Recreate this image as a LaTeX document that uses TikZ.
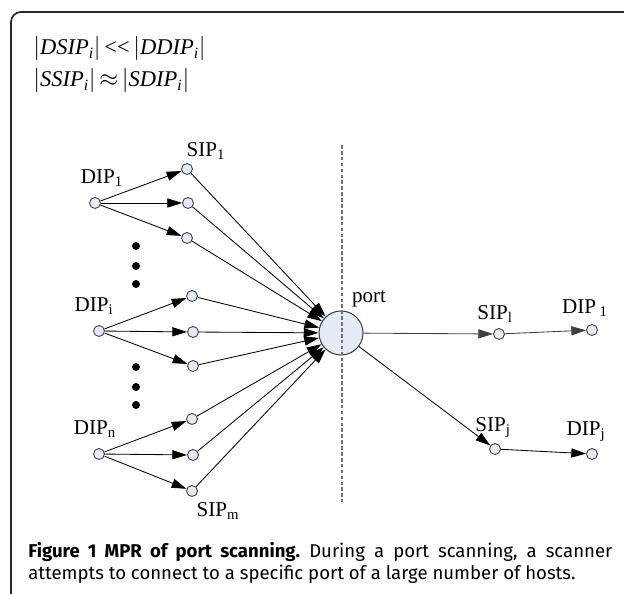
\documentclass[tikz,border=0pt]{standalone}
\usepackage{fontspec}
\setmainfont{Liberation Serif}
\newfontfamily\capfont{Fira Sans}
\usepackage{tikz}
\usetikzlibrary{arrows.meta,positioning,calc}
\usepackage{xcolor}
\definecolor{ipfill}{RGB}{228,234,246}
\definecolor{ipdraw}{RGB}{55,55,60}
\definecolor{splitgray}{RGB}{115,115,115}

\begin{document}
\begin{tikzpicture}[
    font=\fontsize{15}{18}\selectfont,
    ipnode/.style={circle, draw=ipdraw, fill=ipfill, line width=0.6pt, inner sep=0pt, minimum size=0.275cm},
    portnode/.style={circle, draw=ipdraw, fill=ipfill, line width=0.7pt, inner sep=0pt, minimum size=1.1cm},
    lbl/.style={inner sep=0pt},
    eqn/.style={inner sep=0pt, anchor=base west, font=\fontsize{16}{19}\selectfont},
    caption/.style={inner sep=0pt, anchor=base west, font=\capfont\fontsize{13.2}{15.5}\selectfont\frenchspacing},
    hop/.style={-{Triangle[length=10.5pt,width=6.5pt]}, line width=0.6pt},
    ellip/.style={circle, fill=black, inner sep=0pt, minimum size=0.2cm}
  ]
    \useasboundingbox (0,0) rectangle (15.6,14.85);

    % open frame: top and left edges only
    \draw[line width=1.2pt, draw=black!85, rounded corners=0.25cm]
      (0.275,0) -- (0.275,14.55) -- (15.8,14.55);

    % relations between the IP sets
    \node[eqn] (eqA) at (0.825,13.475)
      {$\bigl|$\textit{DSIP}\textsubscript{\textit{i}}$\bigr|$\,{<}{<}\,$\bigl|$\textit{DDIP}\textsubscript{\textit{i}}$\bigr|$};
    \node[eqn] (eqB) at (0.825,12.675)
      {$\bigl|$\textit{SSIP}\textsubscript{\textit{i}}$\bigr|$\,$\approx$\,$\bigl|$\textit{SDIP}\textsubscript{\textit{i}}$\bigr|$};

    % destination hosts on the left
    \node[ipnode] (D1) at (2.375,9.775) {};
    \node[ipnode] (Di) at (2.475,6.575) {};
    \node[ipnode] (Dn) at (2.475,3.5) {};
    \node[lbl] (D1l) at (2.55,10.4) {DIP\textsubscript{1}};
    \node[lbl] (Dil) at (2.35,7.2) {DIP\textsubscript{i}};
    \node[lbl] (Dnl) at (2.375,4.125) {DIP\textsubscript{n}};

    % vertical ellipses between the groups
    \node[ellip] (e1) at (3.4,8.7) {};
    \node[ellip] (e2) at (3.4,8.2) {};
    \node[ellip] (e3) at (3.4,7.75) {};
    \node[ellip] (e4) at (3.4,5.675) {};
    \node[ellip] (e5) at (3.4,5.175) {};
    \node[ellip] (e6) at (3.4,4.725) {};

    % source hosts
    \node[ipnode] (S1) at (4.675,10.625) {};
    \node[ipnode] (S2) at (4.7,9.775) {};
    \node[ipnode] (S3) at (4.675,8.9) {};
    \node[ipnode] (S4) at (4.8,7.45) {};
    \node[ipnode] (S5) at (4.825,6.55) {};
    \node[ipnode] (S6) at (4.825,5.7) {};
    \node[ipnode] (S7) at (4.8,4.375) {};
    \node[ipnode] (S8) at (4.825,3.475) {};
    \node[ipnode] (S9) at (4.8,2.575) {};
    \node[lbl] (S1l) at (5.15,11.075) {SIP\textsubscript{1}};
    \node[lbl] (S9l) at (5.45,2.075) {SIP\textsubscript{m}};

    % scanned port
    \node[portnode] (port) at (8.525,6.525) {};
    \node[lbl] (portl) at (9.225,7.375) {port};

    \draw[hop] (D1) -- (S1);
    \draw[hop] (D1) -- (S2);
    \draw[hop] (D1) -- (S3);
    \draw[hop] (Di) -- (S4);
    \draw[hop] (Di) -- (S5);
    \draw[hop] (Di) -- (S6);
    \draw[hop] (Dn) -- (S7);
    \draw[hop] (Dn) -- (S8);
    \draw[hop] (Dn) -- (S9);

    \draw[hop] (S1) -- (port);
    \draw[hop] (S2) -- (port);
    \draw[hop] (S3) -- (port);
    \draw[hop] (S4) -- (port);
    \draw[hop] (S5) -- (port);
    \draw[hop] (S6) -- (port);
    \draw[hop] (S7) -- (port);
    \draw[hop] (S8) -- (port);
    \draw[hop] (S9) -- (port);

    % split line through the port
    \coordinate (splitTop) at (8.55,11.225);
    \coordinate (splitBot) at (8.55,2.3);
    \draw[splitgray, line width=1pt, dash pattern=on 2.6pt off 1.6pt] (splitTop) -- (splitBot);

    % replies on the right
    \node[ipnode] (Rl) at (12.475,6.5) {};
    \node[ipnode] (R1) at (14.8,6.6) {};
    \node[ipnode] (Rj) at (12.375,3.625) {};
    \node[ipnode] (Rjd) at (14.8,3.5) {};
    \node[lbl] (Rll) at (12.375,7.0) {SIP\textsubscript{l}};
    \node[lbl] (R1l) at (14.625,7.15) {DIP\,\textsubscript{1}};
    \node[lbl] (Rjl) at (12.325,4.15) {SIP\textsubscript{j}};
    \node[lbl] (Rjdl) at (14.65,4.05) {DIP\textsubscript{j}};

    \draw[hop, draw=black!75] (port) -- (Rl);
    \draw[hop, draw=black!75] (Rl) -- (R1);
    \draw[hop] (port) -- (Rj);
    \draw[hop] (Rj) -- (Rjd);

    % caption, first line set full width
    \node[caption] (capA) at (0.7,0.9)
      {\makebox[14.6cm][s]{\textbf{Figure 1 MPR of port scanning.} During a port scanning, a scanner}};
    \node[caption] (capB) at (0.7,0.35)
      {attempts to connect to a specific port of a large number of hosts.};

  \end{tikzpicture}
\end{document}
